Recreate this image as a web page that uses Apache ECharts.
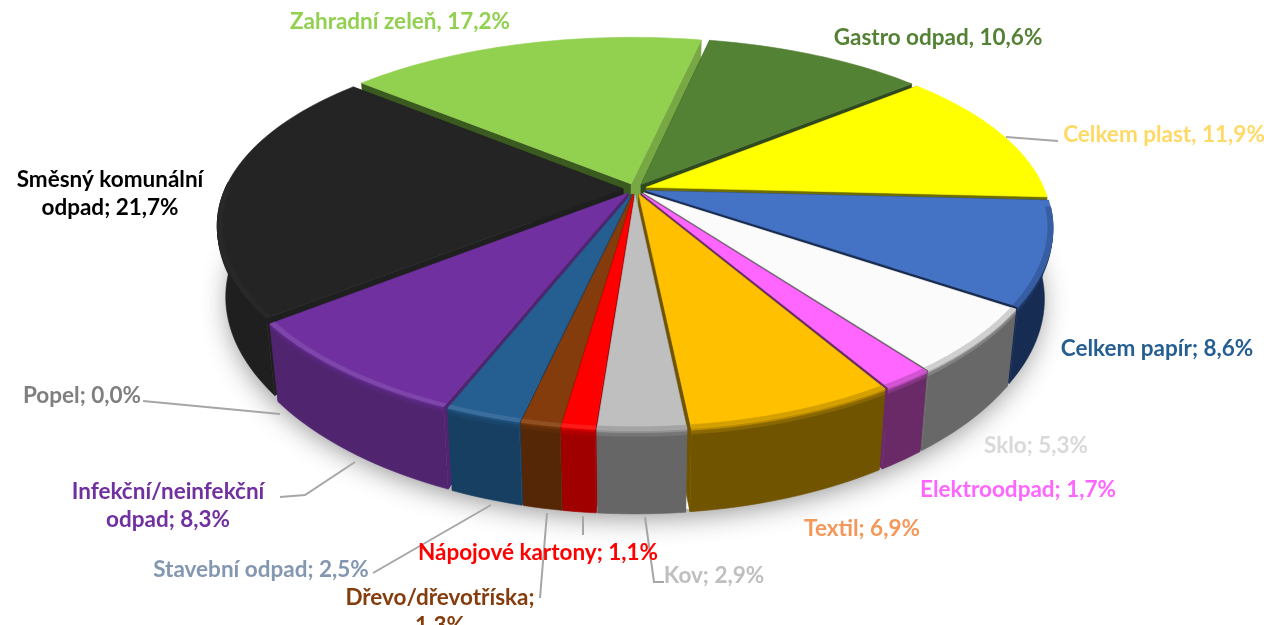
<!DOCTYPE html>
<html>
<head>
<meta charset="utf-8">
<script src="https://cdn.jsdelivr.net/npm/echarts@6/dist/echarts.min.js"></script>
<style>
  html, body { margin: 0; padding: 0; background: #fff; }
  #chart { width: 1264px; height: 625px; }
</style>
</head>
<body>
<div id="chart"></div>
<script>
// data, clockwise from the first slice after the top gap
const categories = ['Gastro odpad', 'Celkem plast', 'Celkem papír', 'Sklo', 'Elektroodpad', 'Textil', 'Kov',
  'Nápojové kartony', 'Dřevo/dřevotříska', 'Stavební odpad', 'Infekční/neinfekční\nodpad', 'Popel',
  'Směsný komunální\nodpad', 'Zahradní zeleň'];
const values = [10.6, 11.9, 8.6, 5.3, 1.7, 6.9, 2.9, 1.1, 1.3, 2.5, 8.3, 0.0, 21.7, 17.2];
const separators = [', ', ', ', '; ', '; ', '; ', '; ', '; ', '; ', ';\n', '; ', '; ', '; ', '; ', ', '];

// colours
const topColors = ['#548235', '#ffff00', '#4472c4', '#fbfbfb', '#ff66ff', '#ffc000', '#bfbfbf',
  '#ff0000', '#843c0c', '#255e91', '#7030a0', '#7f7f7f', '#242424', '#92d050'];
const wallColors = ['#2f4a1e', '#6e6e00', '#172c52', '#686868', '#6a2a68', '#705400', '#666666',
  '#a00000', '#562707', '#173f62', '#50246f', '#555555', '#1f1f1f', '#3a5a20'];
const labelColors = ['#548235', '#ffd966', '#255e91', '#d9d9d9', '#ff66ff', '#f4975a', '#bfbfbf',
  '#ff0000', '#843c0c', '#8497b0', '#7030a0', '#7f7f7f', '#000000', '#92d050'];

// label centres, and the leader lines that go with them
const labelPos = [[938, 38], [1164, 135], [1157, 349], [1036, 446], [1018, 490], [862, 529], [714, 576],
  [538, 553], [440, 612], [261, 570], [168, 506], [82, 396], [110, 194], [400, 22]];
const leaders = [
  null,
  [[1006, 137], [1058, 141]],
  null, null, null, null,
  [[645, 517], [654, 582], [664, 582]],
  [[583, 516], [583, 535]],
  [[547, 513], [540, 598]],
  [[491, 505], [373, 573]],
  [[355, 462], [305, 495], [280, 497]],
  [[280, 414], [143, 401]],
  null, null
];

// pie projection
const cx = 635, cy = 189, Rx = 398, Ry = 181, H = 71;
const persp = 0.221, perspX = 0.19, perspDown = 0.02, explode = 0.03, startAngle = 12;
const total = values.reduce((a, b) => a + b, 0);

let acc = startAngle;
const wedges = values.map(v => {
  const a0 = acc;
  acc += v / total * 360;
  return { a0, a1: acc, mid: (a0 + acc) / 2 };
});
const rad = d => d * Math.PI / 180;

function project(u, v, d) {
  const sx = 1 / (1 - perspX * v + perspDown * d);
  const sy = 1 / (1 - persp * v + perspDown * d);
  return [cx + Rx * u * sx, cy + (Ry * v + H * d) * sy];
}
// r: radius 0..1, a: degrees clockwise from the back, d: depth 0..1
function pt(w, r, a, d) {
  const u = r * Math.sin(rad(a)) + explode * Math.sin(rad(w.mid));
  const v = -r * Math.cos(rad(a)) - explode * Math.cos(rad(w.mid));
  return project(u, v, d);
}
function arc(w, r, a0, a1, d) {
  const out = [];
  const n = Math.max(2, Math.ceil(Math.abs(a1 - a0) / 1.5));
  for (let i = 0; i <= n; i++) out.push(pt(w, r, a0 + (a1 - a0) * i / n, d));
  return out;
}
function mix(c1, c2, t) {
  const p = c => [1, 3, 5].map(i => parseInt(c.substr(i, 2), 16));
  const a = p(c1), b = p(c2);
  return '#' + a.map((x, i) => Math.round(x + (b[i] - x) * t).toString(16).padStart(2, '0')).join('');
}
function poly(points, fill, z2) {
  return { type: 'polygon', z2, shape: { points }, style: { fill, stroke: fill, lineWidth: 0.6 } };
}

// back slices first, front slices over them
const drawOrder = wedges.map((w, i) => i).sort((a, b) =>
  -Math.cos(rad(wedges[a].mid)) - -Math.cos(rad(wedges[b].mid)));

function renderSlice(params) {
  const i = params.dataIndex;
  if (values[i] === 0) return { type: 'group', children: [] };
  const w = wedges[i], top = topColors[i], wall = wallColors[i];
  const z = drawOrder.indexOf(i) * 10 + 10;
  const kids = [];

  // radial side walls
  [w.a0, w.a1].forEach((a, k) => {
    let c = wall;
    if (i === 13 && k === 1) c = '#77a844';
    kids.push(poly([pt(w, 0, 0, 0), pt(w, 1, a, 0), pt(w, 1, a, 1), pt(w, 0, 0, 1)], c, z));
  });

  // outer wall, only the part that faces the viewer
  const f0 = Math.max(w.a0, 95), f1 = Math.min(w.a1, 272);
  if (f1 > f0) {
    const strip = (d0, d1, c, zz) => poly(arc(w, 1, f0, f1, d0).concat(arc(w, 1, f1, f0, d1)), c, zz);
    kids.push(strip(0, 1, wall, z + 1));
    kids.push(strip(0, 0.035, mix(top, wall, 0.5), z + 2));
    kids.push(strip(0.035, 0.07, mix(top, wall, 0.82), z + 2));
  }

  // top face
  kids.push(poly([pt(w, 0, 0, 0)].concat(arc(w, 1, w.a0, w.a1, 0)), top, z + 3));

  // soft rim on the top face
  if (f1 > f0) {
    const rightSide = Math.sin(rad(w.mid)) > 0;
    const rimColor = rightSide ? mix(top, wall, 0.3) : mix(top, '#ffffff', i === 12 ? 0.02 : 0.1);
    kids.push(poly(arc(w, 0.988, f0, f1, 0).concat(arc(w, 1, f1, f0, 0)), rimColor, z + 4));
  }
  return { type: 'group', children: kids };
}

function renderBase() {
  const points = [];
  for (let a = 0; a < 360; a += 3) {
    const u = 1.02 * Math.sin(rad(a)), v = -1.02 * Math.cos(rad(a));
    points.push(project(u, v, 1));
  }
  return {
    type: 'polygon', shape: { points },
    style: { fill: '#ffffff', shadowBlur: 28, shadowOffsetY: 6, shadowColor: 'rgba(0,0,0,0.45)' }
  };
}

function renderLabel(params) {
  const i = params.dataIndex;
  const kids = [];
  if (leaders[i]) {
    kids.push({
      type: 'polyline', z2: 1, shape: { points: leaders[i] },
      style: { fill: 'none', stroke: '#a6a6a6', lineWidth: 2 }
    });
  }
  const num = values[i].toFixed(1).replace('.', ',') + '%';
  kids.push({
    type: 'text', z2: 2,
    style: {
      text: categories[i] + separators[i] + num,
      x: labelPos[i][0], y: labelPos[i][1],
      fill: labelColors[i], align: 'center', verticalAlign: 'middle',
      font: 'bold 22.5px Lato', lineHeight: 28
    }
  });
  return { type: 'group', children: kids };
}

const chart = echarts.init(document.getElementById('chart'), null, { renderer: 'canvas' });
chart.setOption({
  animation: false,
  backgroundColor: '#ffffff',
  series: [
    { type: 'custom', coordinateSystem: 'none', silent: true, z: 1, renderItem: renderBase, data: [0] },
    { type: 'custom', coordinateSystem: 'none', silent: true, z: 2, renderItem: renderSlice, data: values },
    { type: 'custom', coordinateSystem: 'none', silent: true, z: 3, renderItem: renderLabel, data: values }
  ]
});
window.addEventListener('resize', () => chart.resize());
</script>
</body>
</html>
